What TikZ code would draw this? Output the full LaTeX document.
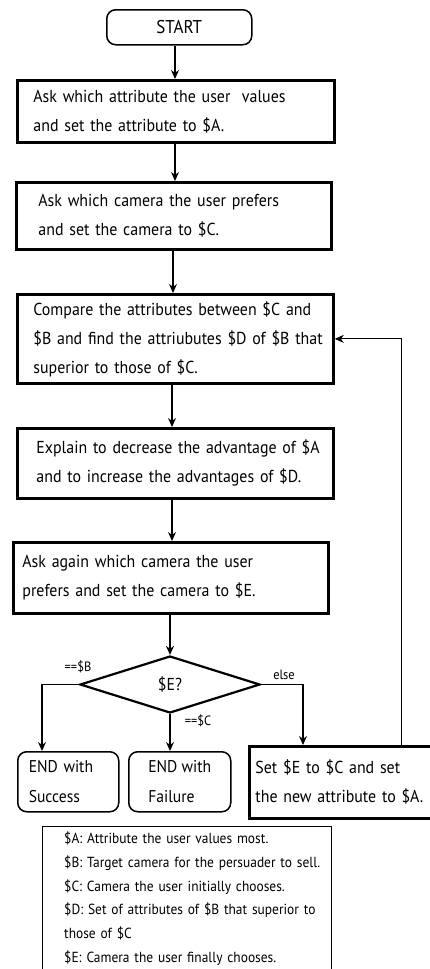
\documentclass[tikz,border=0pt]{standalone}
\usepackage{fontspec}
\setmainfont{PT Sans}[FakeStretch=0.92]
\usetikzlibrary{arrows.meta,shapes.geometric}

\newcommand\boxfont{\fontsize{17.3}{29}\selectfont}
\newcommand\termfont{\fontsize{17}{30}\selectfont}
\newcommand\startfont{\fontsize{18.5}{20}\selectfont}
\newcommand\legfont{\fontsize{14.6}{23.7}\selectfont}
\newcommand\lblfont{\fontsize{13.5}{15}\selectfont}
% one unbreakable line of a multi-line label
\newcommand\oneline[1]{\mbox{#1}}

\begin{document}
\begin{tikzpicture}[x=1pt,y=-1pt,
  proc/.style={draw, line width=2.8pt, anchor=north west, align=left,
    inner ysep=0pt, font=\boxfont},
  term/.style={draw, line width=1.5pt, rounded corners=9pt, anchor=north west,
    inner ysep=0pt, font=\termfont},
  decision/.style={diamond, draw, line width=2.2pt, inner sep=0pt, font=\boxfont},
  flow/.style={line width=1.2pt, -{Stealth[length=9pt,width=8pt]}},
  back/.style={line width=0.9pt, -{Stealth[length=9pt,width=8pt]}},
  lbl/.style={font=\lblfont, inner sep=0pt},
  legend/.style={anchor=north west, align=left, font=\legfont,
    inner xsep=22pt, inner ysep=6pt, text width=245pt}
]
\useasboundingbox (0,0) rectangle (429,969);

% terminal and process steps
\node[term, minimum width=145pt, minimum height=35pt, align=center, font=\startfont] (start) at (106,9) {START};
\node[proc, minimum width=317pt, minimum height=62pt, inner xsep=16pt, text width=285pt]
  (b1) at (16,79) {\oneline{Ask which attribute the user~ values}\\\oneline{and set the attribute to \$A.}};
\node[proc, minimum width=315pt, minimum height=67pt, inner xsep=22pt, text width=271pt]
  (b2) at (15,181) {\oneline{Ask which camera the user prefers}\\\oneline{and set the camera to \$C.}};
\node[proc, minimum width=316pt, minimum height=89pt, inner xsep=16pt, text width=284pt]
  (b3) at (16,293) {\oneline{Compare the attributes between \$C and}\\\oneline{\$B and find the attriubutes \$D of \$B that}\\\oneline{superior to those of \$C.}};
\node[proc, minimum width=316pt, minimum height=70pt, inner xsep=19pt, text width=278pt]
  (b4) at (16,427) {\oneline{Explain to decrease the advantage of \$A}\\\oneline{and to increase the advantages of \$D.}};
\node[proc, minimum width=315pt, minimum height=71pt, inner xsep=9pt, text width=297pt]
  (b5) at (12,541) {\oneline{Ask again which camera the user}\\\oneline{prefers and set the camera to \$E.}};

% decision
\node[decision, minimum width=180pt, minimum height=57pt] (dec) at (170,684.5) {\$E?};
\node[lbl] (lb) at (78,667) {==\$B};
\node[lbl] (le) at (284,675) {else};
\node[lbl] (lc) at (198,721) {==\$C};

% outcomes
\node[term, minimum width=101pt, minimum height=60pt, align=left, inner xsep=11pt, text width=79pt]
  (succ) at (17,751) {\oneline{END with}\\\oneline{Success}};
\node[term, minimum width=102pt, minimum height=60pt, align=left]
  (fail) at (128,751) {END with\\Failure};
\node[proc, minimum width=200pt, minimum height=72pt, inner xsep=6pt, text width=188pt]
  (b6) at (248,745) {\oneline{Set \$E to \$C and set}\\\oneline{the new attribute to \$A.}};

% legend, open at the bottom
\node[legend] (leg) at (42,826) {\oneline{\$A: Attribute the user values most.}\\
\oneline{\$B: Target camera for the persuader to sell.}\\
\oneline{\$C: Camera the user initially chooses.}\\
\oneline{\$D: Set of attributes of \$B that superior to}\\
\oneline{those of \$C}\\
\oneline{\$E: Camera the user finally chooses.}};
\coordinate (legbot) at (0,990);
\coordinate (legr) at (331,0);
\draw[line width=0.9pt] (leg.north west |- legbot) -- (leg.north west)
  -- (legr |- leg.north) -- (legr |- legbot);

% connectors
\coordinate (lx) at (42,0);
\coordinate (rx) at (303,0);
\coordinate (fbx) at (401,0);
\draw[flow] (start.south -| 175,0) -- (b1.north -| 175,0);
\draw[flow] (b1.south -| 175,0) -- (b2.north -| 175,0);
\draw[flow] (b2.south -| 173,0) -- (b3.north -| 173,0);
\draw[flow] (b3.south -| 172,0) -- (b4.north -| 172,0);
\draw[flow] (b4.south -| 172,0) -- (b5.north -| 172,0);
\draw[flow] (b5.south -| dec.north) -- (dec.north);
\draw[flow] (dec.west) -| (lx |- succ.north);
\draw[flow] (dec.south) -- (dec.south |- fail.north);
\draw[flow] (dec.east) -| (rx |- b6.north);
\draw[back] (fbx |- b6.north) |- (b3.east);
\end{tikzpicture}
\end{document}
